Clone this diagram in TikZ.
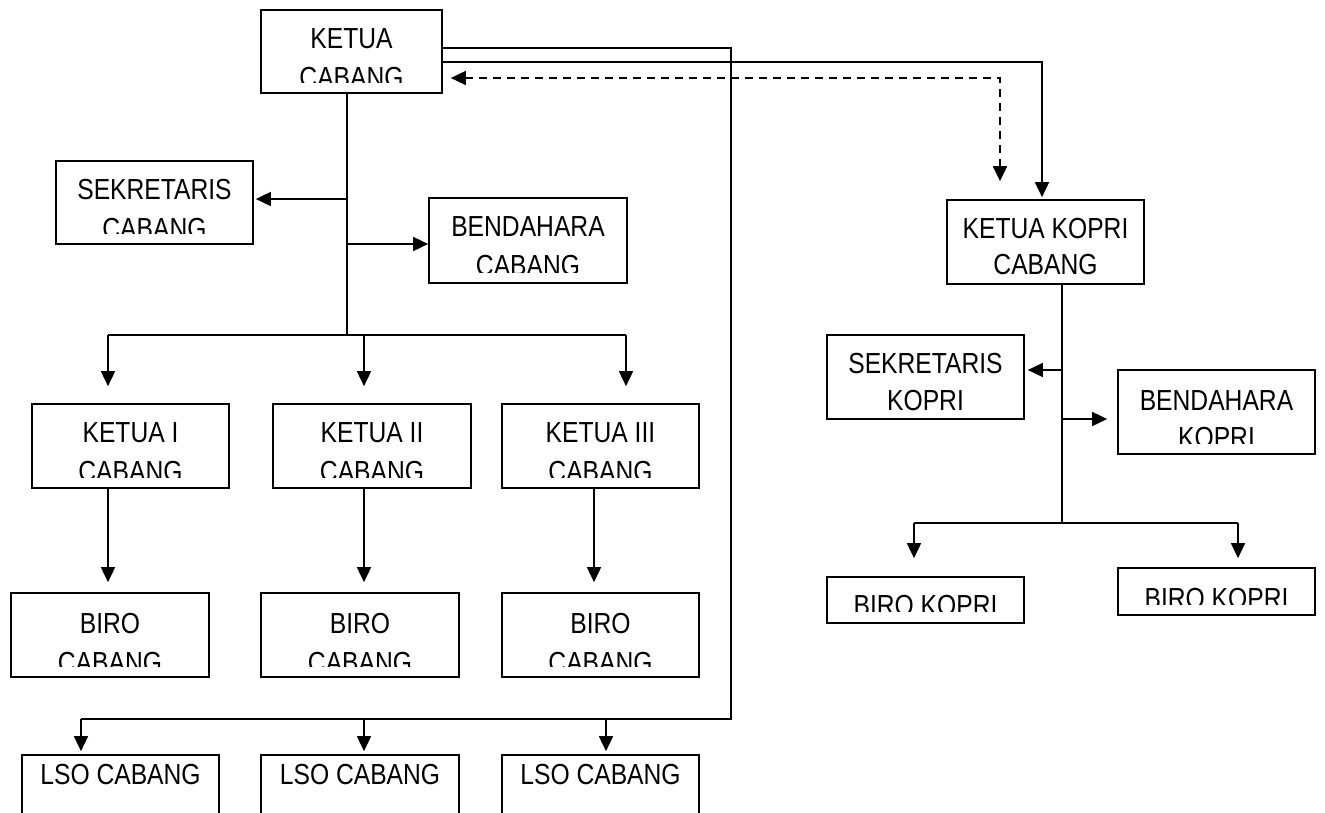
\documentclass[tikz,border=0pt]{standalone}
\usepackage{fontspec}
\newfontfamily\orgfont[FakeStretch=0.85]{Liberation Sans}
\usetikzlibrary{arrows.meta,fit,calc}
\newcommand\mkbox[5]{\coordinate (#1-nw) at (#2,#3);\coordinate (#1-se) at (#4,#5);\node[bx, fit=(#1-nw)(#1-se)] (#1) {};}
\newcommand\mkline[6]{\begin{scope}\clip (#2,0) rectangle (#3,#4);\node[lbl] (#1) at ({(#2+#3)/2},#5) {#6};\end{scope}}
\begin{document}
\begin{tikzpicture}[x=1pt,y=-1pt,
  bx/.style={draw, line width=1.7pt, inner sep=0pt},
  lbl/.style={anchor=base, inner sep=0pt, font=\orgfont\fontsize{29}{34}\selectfont},
  ln/.style={line width=1.7pt},
  arr/.style={ln, -{Triangle[length=15pt,width=14pt]}},
  darr/.style={ln, dash pattern=on 8pt off 6pt, {Triangle[length=15pt,width=14pt]}-{Triangle[length=15pt,width=14pt]}}]
\useasboundingbox (0,0) rectangle (1325,812);
\fill[white] (0,0) rectangle (1325,812);

% ---- boxes, left part
\mkbox{kc}{261}{10}{442}{93}
\mkline{kc1}{261}{442}{82}{48}{KETUA}
\mkline{kc2}{261}{442}{82}{87}{CABANG}

\mkbox{sc}{56}{161}{253}{244}
\mkline{sc1}{56}{253}{233}{199}{SEKRETARIS}
\mkline{sc2}{56}{253}{233}{238}{CABANG}

\mkbox{bc}{429}{198}{627}{283}
\mkline{bc1}{429}{627}{272}{236}{BENDAHARA}
\mkline{bc2}{429}{627}{272}{275}{CABANG}

\mkbox{k1}{32}{404}{229}{488}
\mkline{k1a}{32}{229}{477}{442}{KETUA I}
\mkline{k1b}{32}{229}{477}{481}{CABANG}
\mkbox{k2}{273}{404}{471}{488}
\mkline{k2a}{273}{471}{477}{442}{KETUA II}
\mkline{k2b}{273}{471}{477}{481}{CABANG}
\mkbox{k3}{502}{404}{699}{488}
\mkline{k3a}{502}{699}{477}{442}{KETUA III}
\mkline{k3b}{502}{699}{477}{481}{CABANG}

\mkbox{b1}{11}{593}{209}{677}
\mkline{b1a}{11}{209}{666}{633}{BIRO}
\mkline{b1b}{11}{209}{666}{672}{CABANG}
\mkbox{b2}{261}{593}{459}{677}
\mkline{b2a}{261}{459}{666}{633}{BIRO}
\mkline{b2b}{261}{459}{666}{672}{CABANG}
\mkbox{b3}{502}{593}{699}{677}
\mkline{b3a}{502}{699}{666}{633}{BIRO}
\mkline{b3b}{502}{699}{666}{672}{CABANG}

\mkbox{l1}{22}{755}{219}{830}
\mkline{l1a}{22}{219}{812}{784}{LSO CABANG}
\mkbox{l2}{261}{755}{459}{830}
\mkline{l2a}{261}{459}{812}{784}{LSO CABANG}
\mkbox{l3}{502}{755}{699}{830}
\mkline{l3a}{502}{699}{812}{784}{LSO CABANG}

% ---- boxes, right part
\mkbox{kk}{947}{200}{1144}{284}
\mkline{kk1}{947}{1144}{278}{238}{KETUA KOPRI}
\mkline{kk2}{947}{1144}{278}{274}{CABANG}

\mkbox{sk}{827}{335}{1024}{419}
\mkline{sk1}{827}{1024}{413}{373}{SEKRETARIS}
\mkline{sk2}{827}{1024}{413}{410}{KOPRI}

\mkbox{bk}{1118}{370}{1315}{454}
\mkline{bk1}{1118}{1315}{443}{410}{BENDAHARA}
\mkline{bk2}{1118}{1315}{443}{447}{KOPRI}

\mkbox{rk1}{827}{577}{1024}{623}
\mkline{rk1a}{827}{1024}{611}{615}{BIRO KOPRI}
\mkbox{rk2}{1118}{568}{1315}{615}
\mkline{rk2a}{1118}{1315}{604}{608}{BIRO KOPRI}

% ---- connectors, left part
\coordinate (j1) at (347,335);
\draw[ln] (j1 |- kc.south) -- (j1);
\coordinate (jsc) at (347,199);
\draw[arr, shorten >=2pt] (jsc) -- (jsc -| sc.east);
\coordinate (jbc) at (347,244);
\draw[arr] (jbc) -- (jbc -| bc.west);

\coordinate (h1) at (108,335);
\coordinate (h2) at (364,335);
\coordinate (h3) at (626,335);
\draw[ln] (h1) -- (h3);
\draw[arr, shorten >=17pt] (h1) -- (h1 |- k1.north);
\draw[arr, shorten >=17pt] (h2) -- (h2 |- k2.north);
\draw[arr, shorten >=17pt] (h3) -- (h3 |- k3.north);

\coordinate (v1) at (108,500);
\coordinate (v2) at (364,500);
\coordinate (v3) at (594,500);
\draw[arr, shorten >=10pt] (v1 |- k1.south) -- (v1 |- b1.north);
\draw[arr, shorten >=10pt] (v2 |- k2.south) -- (v2 |- b2.north);
\draw[arr, shorten >=10pt] (v3 |- k3.south) -- (v3 |- b3.north);

\coordinate (lsoR) at (731,719);
\coordinate (lsoL) at (81,719);
\draw[ln] ([yshift=3.5pt]kc.east) -| (lsoR) -- (lsoL);
\coordinate (m1) at (81,719);
\coordinate (m2) at (364,719);
\coordinate (m3) at (606,719);
\draw[arr, shorten >=3pt] (m1) -- (m1 |- l1.north);
\draw[arr, shorten >=3pt] (m2) -- (m2 |- l2.north);
\draw[arr, shorten >=3pt] (m3) -- (m3 |- l3.north);

% ---- connectors to KOPRI
\draw[arr, shorten >=2pt] ([yshift=-10.5pt]kc.east) -| ([xshift=-3.5pt]kk.north);
\draw[darr, shorten <=8pt, shorten >=18pt] ([yshift=-26.5pt]kc.east) -| ([xshift=-45.5pt]kk.north);

\coordinate (j2) at (1062,523);
\draw[ln] (j2 |- kk.south) -- (j2);
\coordinate (jsk) at (1062,370);
\draw[arr, shorten >=3pt] (jsk) -- (jsk -| sk.east);
\coordinate (jbk) at (1062,419);
\draw[arr, shorten >=10pt] (jbk) -- (jbk -| bk.west);
\coordinate (g1) at (914,523);
\coordinate (g2) at (1238,523);
\draw[ln] (g1) -- (g2);
\draw[arr, shorten >=18pt] (g1) -- (g1 |- rk1.north);
\draw[arr, shorten >=9pt] (g2) -- (g2 |- rk2.north);
\end{tikzpicture}
\end{document}
